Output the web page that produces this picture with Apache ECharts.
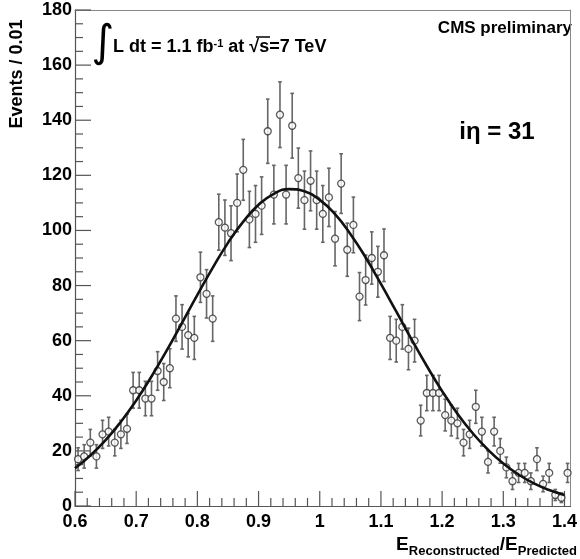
<!DOCTYPE html>
<html><head><meta charset="utf-8">
<script src="https://cdn.jsdelivr.net/npm/echarts@6/dist/echarts.min.js"></script>
<style>html,body{margin:0;padding:0;background:#fff}#c{width:580px;height:559px}</style>
</head><body><div id="c"></div>
<script>
// ---- data ----
var xTickLabels = ['0.6','0.7','0.8','0.9','1','1.1','1.2','1.3','1.4'];
var yTickLabels = ['0','20','40','60','80','100','120','140','160','180'];
var xMinorPerMajor = 5;   // minor ticks every 0.02
var yMinorPerMajor = 4;   // minor ticks every 5
var binStart = 0.60;
var binWidth = 0.01;
var counts = [17,18,23,18,26,27,23,26,28,42,
              42,39,39,49,45,50,68,65,62,61,
              83,77,68,103,101,99,110,122,104,106,
              109,136,113,142,113,138,119,111,118,111,
              106,112,97,117,93,102,76,82,90,85,
              91,61,60,65,57,60,31,41,41,41,
              33,31,30,23,26,36,27,16,27,20,
              14,9,12,12,9,17,8,12,4,3,
              12];
var fitX = [0.600,0.625,0.650,0.675,0.700,0.725,0.750,0.775,0.800,0.825,0.850,0.875,0.900,0.925,0.950,0.975,
            1.000,1.025,1.050,1.075,1.100,1.125,1.150,1.175,1.200,1.225,1.250,1.275,1.300,1.325,1.350,1.375,1.400];
var fitY = [13.7,18.3,23.9,30.6,38.3,47.0,56.5,66.5,76.6,86.4,95.5,103.2,109.3,113.3,115.0,114.2,
            111.1,105.9,98.7,90.2,80.6,70.6,60.5,50.8,41.7,33.5,26.4,20.4,15.4,11.4,8.2,5.8,4.0];

// ---- build ----
var points = counts.map(function (c, i) { return [binStart + binWidth * (i + 0.5), c, Math.sqrt(c)]; });
var fitLine = fitX.map(function (x, i) { return [x, fitY[i]]; });
var X0 = 0.6, X1 = 1.41, Y0 = 0, Y1 = 180;

// tick list: [axis(0=x,1=y), value, major(1)/minor(0)]
var tickList = [];
(function () {
  var xv = xTickLabels.map(Number), yv = yTickLabels.map(Number);
  var xStep = xv[1] - xv[0];
  for (var k = 0; k < xv.length; k++) {
    tickList.push([0, xv[k], 1]);
    var nx = xv[k] + xStep;
    for (var m = 1; m < xMinorPerMajor; m++) {
      var mv = xv[k] + (nx - xv[k]) * m / xMinorPerMajor;
      if (mv <= X1 + 1e-9) tickList.push([0, mv, 0]);
    }
  }
  for (var j = 0; j < yv.length; j++) {
    tickList.push([1, yv[j], 1]);
    if (j + 1 < yv.length) for (var n = 1; n < yMinorPerMajor; n++) tickList.push([1, yv[j] + (yv[j + 1] - yv[j]) * n / yMinorPerMajor, 0]);
  }
})();

var FONT = 'Liberation Sans, Arial, sans-serif';
var AX = '#555';
function fmtX(v) {
  var r = Math.round(v * 10) / 10;
  if (Math.abs(v - r) > 1e-6) return '';
  var s = String(r);
  return xTickLabels.indexOf(s) >= 0 ? s : '';
}
function fmtY(v) {
  var s = String(Math.round(v));
  return yTickLabels.indexOf(s) >= 0 ? s : '';
}
function frameAxis(pos, isX) {
  return {
    type: 'value', position: pos, min: isX ? X0 : Y0, max: isX ? X1 : Y1,
    axisLine: {show: true, onZero: false, lineStyle: {color: '#888', width: 1}},
    axisTick: {show: false}, minorTick: {show: false}, axisLabel: {show: false}, splitLine: {show: false}
  };
}

var chart = echarts.init(document.getElementById('c'), null, {renderer: 'canvas'});
chart.setOption({
  animation: false,
  backgroundColor: '#fff',
  grid: {left: 75, right: 4, top: 10, bottom: 53},
  xAxis: [{
    type: 'value', position: 'bottom', min: X0, max: X1, interval: 0.1,
    axisLine: {show: true, onZero: false, lineStyle: {color: AX, width: 1.2}},
    axisTick: {show: false}, minorTick: {show: false},
    splitLine: {show: false},
    axisLabel: {formatter: fmtX, color: '#000', fontFamily: FONT, fontWeight: 'bold', fontSize: 18, margin: 7}
  }, frameAxis('top', true)],
  yAxis: [{
    type: 'value', position: 'left', min: Y0, max: Y1, interval: 20,
    axisLine: {show: true, onZero: false, lineStyle: {color: AX, width: 1.2}},
    axisTick: {show: false}, minorTick: {show: false},
    splitLine: {show: false},
    axisLabel: {formatter: fmtY, color: '#000', fontFamily: FONT, fontWeight: 'bold', fontSize: 18, margin: 3}
  }, frameAxis('right', false)],
  series: [
    {
      type: 'custom', name: 'errors', data: points, z: 2, clip: false,
      xAxisIndex: 0, yAxisIndex: 0,
      encode: {x: 0, y: 1},
      renderItem: function (params, api) {
        var x = api.value(0), y = api.value(1), e = api.value(2);
        var t = api.coord([x, y + e]), b = api.coord([x, y - e]);
        var w = 1.8, st = {stroke: '#666', lineWidth: 1.6};
        var kids = [
          {type: 'line', shape: {x1: t[0], y1: t[1], x2: b[0], y2: b[1]}, style: st},
          {type: 'line', shape: {x1: t[0] - w, y1: t[1], x2: t[0] + w, y2: t[1]}, style: st},
          {type: 'line', shape: {x1: b[0] - w, y1: b[1], x2: b[0] + w, y2: b[1]}, style: st}
        ];
        if (params.dataIndex === 0) {
          var tst = {stroke: AX, lineWidth: 1.2};
          for (var i = 0; i < tickList.length; i++) {
            var tk = tickList[i];
            if (tk[0] === 0) {
              var p = api.coord([tk[1], Y0]);
              var len = tk[2] ? 15 : 8;
              kids.push({type: 'line', shape: {x1: p[0], y1: p[1], x2: p[0], y2: p[1] - len}, style: tst});
            } else {
              var q = api.coord([X0, tk[1]]);
              var len2 = tk[2] ? 16 : 8;
              kids.push({type: 'line', shape: {x1: q[0], y1: q[1], x2: q[0] + len2, y2: q[1]}, style: tst});
            }
          }
        }
        return {type: 'group', children: kids};
      }
    },
    {
      type: 'scatter', name: 'data', data: points.map(function (p) { return [p[0], p[1]]; }), z: 3,
      xAxisIndex: 0, yAxisIndex: 0,
      symbol: 'circle', symbolSize: 7,
      itemStyle: {color: '#fff', borderColor: '#333', borderWidth: 1.3}
    },
    {
      type: 'line', name: 'fit', data: fitLine, z: 4, smooth: true, showSymbol: false, symbol: 'none',
      xAxisIndex: 0, yAxisIndex: 0,
      lineStyle: {color: '#111', width: 2.6}
    }
  ],
  graphic: [
    {type: 'text', x: 17, y: 74, rotation: Math.PI / 2,
     style: {text: 'Events / 0.01', font: 'bold 18px ' + FONT, fill: '#000', align: 'center', verticalAlign: 'middle'}},
    {type: 'text', right: 3, top: 535,
     style: {text: '{e|E}{s|Reconstructed}{e|/E}{s|Predicted}', fill: '#000',
       rich: {
         e: {fontFamily: FONT, fontWeight: 'bold', fontSize: 19, lineHeight: 19, verticalAlign: 'top', fill: '#000'},
         s: {fontFamily: FONT, fontWeight: 'bold', fontSize: 13, lineHeight: 13, padding: [10, 0, 0, 0], verticalAlign: 'top', fill: '#000'}
       }}},
    {type: 'text', x: 103, y: 45,
     style: {text: '\u222B', font: '44px DejaVu Sans', fill: '#000', align: 'center', verticalAlign: 'middle'}},
    {type: 'text', x: 113, y: 38,
     style: {text: '{n|L dt = 1.1 fb}{p|-1}{n| at \u221As=7 TeV}', fill: '#000',
       rich: {
         n: {fontFamily: FONT, fontWeight: 'bold', fontSize: 18, lineHeight: 18, verticalAlign: 'bottom', fill: '#000'},
         p: {fontFamily: FONT, fontWeight: 'bold', fontSize: 11, lineHeight: 11, verticalAlign: 'top', fill: '#000'}
       }}},
    {type: 'line', shape: {x1: 256, y1: 37, x2: 270, y2: 37}, style: {stroke: '#000', lineWidth: 1.5}},
    {type: 'text', right: 8, top: 20,
     style: {text: 'CMS preliminary', font: 'bold 17px ' + FONT, fill: '#000'}},
    {type: 'text', x: 497, y: 132,
     style: {text: 'i\u03B7 = 31', font: 'bold 24px ' + FONT, fill: '#000', align: 'center', verticalAlign: 'middle'}}
  ]
});
</script>
</body></html>
